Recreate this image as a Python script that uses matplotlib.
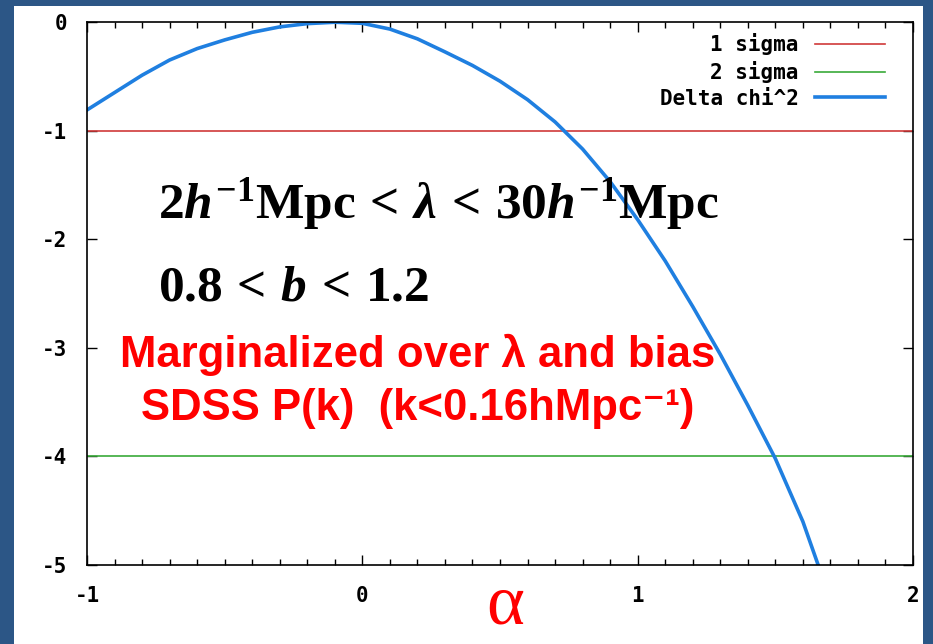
import numpy as np
import matplotlib
matplotlib.use("Agg")
import matplotlib.pyplot as plt
from matplotlib.patches import Rectangle

# Delta chi^2 profile versus alpha
alpha = [-1.0, -0.9, -0.8, -0.7, -0.6, -0.5, -0.4, -0.3, -0.2, -0.1,
         0.0, 0.1, 0.2, 0.3, 0.4, 0.5, 0.6, 0.7, 0.8, 0.9,
         1.0, 1.1, 1.2, 1.3, 1.4, 1.5, 1.6, 1.7]
delta_chi2 = [-0.81, -0.65, -0.49, -0.35, -0.245, -0.165, -0.095, -0.045, -0.015, -0.002,
              -0.012, -0.065, -0.155, -0.275, -0.40, -0.545, -0.715, -0.92, -1.17, -1.47,
              -1.82, -2.20, -2.62, -3.06, -3.53, -4.02, -4.60, -5.32]

sigma_levels = [-1, -4]
sigma_labels = ["1 sigma", "2 sigma"]
sigma_colors = ["#d03a3a", "#3aaa3a"]

xticks = [-1, 0, 1, 2]
yticks = [0, -1, -2, -3, -4, -5]

plt.rcParams["mathtext.fontset"] = "custom"
plt.rcParams["mathtext.rm"] = "Liberation Serif:bold"
plt.rcParams["mathtext.bf"] = "Liberation Serif:bold"
plt.rcParams["mathtext.it"] = "Liberation Serif:italic:bold"

fig = plt.figure(figsize=(9.33, 6.44), dpi=100)
fig.patch.set_facecolor("#2c5686")
# white slide panel behind the axes
fig.patches.append(Rectangle((14 / 933, 0), 909 / 933, 638 / 644,
                             transform=fig.transFigure, facecolor="white",
                             edgecolor="none", zorder=-1))

ax = fig.add_axes([87 / 933, 79 / 644, 826 / 933, 543 / 644])
ax.set_facecolor("white")

for lev, lab, col in zip(sigma_levels, sigma_labels, sigma_colors):
    ax.axhline(lev, color=col, lw=1.2, label=lab)
ax.plot(alpha, delta_chi2, color="#1f7fe0", lw=2.6, label="Delta chi^2")

ax.set_xlim(-1, 2)
ax.set_ylim(-5, 0)
ax.set_xticks(xticks)
ax.set_yticks(yticks)
ax.set_xticks(np.arange(-1, 2.001, 0.1), minor=True)

tick_font = dict(family="DejaVu Sans Mono", weight="bold", size=15)
ax.set_xticklabels([str(t) for t in xticks], fontdict=tick_font)
ax.set_yticklabels([str(t) for t in yticks], fontdict=tick_font)
ax.tick_params(which="both", direction="in", top=True, right=True, width=1.0)
ax.tick_params(which="major", length=7)
ax.tick_params(which="minor", length=4)
ax.tick_params(axis="x", which="major", pad=15)
ax.tick_params(axis="y", which="major", pad=14)
for s in ax.spines.values():
    s.set_linewidth(1.2)

leg = ax.legend(loc="upper right", bbox_to_anchor=(0.966, 0.979),
                frameon=False, markerfirst=False, borderaxespad=0, borderpad=0,
                handlelength=3.36, handletextpad=0.77, labelspacing=0.27,
                prop=dict(family="DejaVu Sans Mono", weight="bold", size=15))

# parameter ranges
ax.text(-0.742, -1.805,
        r"$2h^{-1}\mathrm{Mpc}\,<\,\lambda\,<\,30h^{-1}\mathrm{Mpc}$",
        fontsize=37, color="black", va="baseline", ha="left")
ax.text(-0.742, -2.56, r"$0.8\,<\,b\,<\,1.2$",
        fontsize=37, color="black", va="baseline", ha="left")

red_font = ["Liberation Sans", "DejaVu Sans"]
ax.text(0.2015, -3.175, "Marginalized over λ and bias", family=red_font,
        weight="bold", fontsize=31.5, color="#ff0000", va="baseline", ha="center")
ax.text(0.2015, -3.665, "SDSS P(k)  (k<0.16hMpc\u207b\u00b9)", family=red_font,
        weight="bold", fontsize=31.5, color="#ff0000", va="baseline", ha="center")

fig.text(505 / 933, 1 - 606 / 644, "α", family="Liberation Serif",
         fontsize=52, color="#ff0000", ha="center", va="center")

fig.savefig("out.png", dpi=100, facecolor=fig.get_facecolor())
